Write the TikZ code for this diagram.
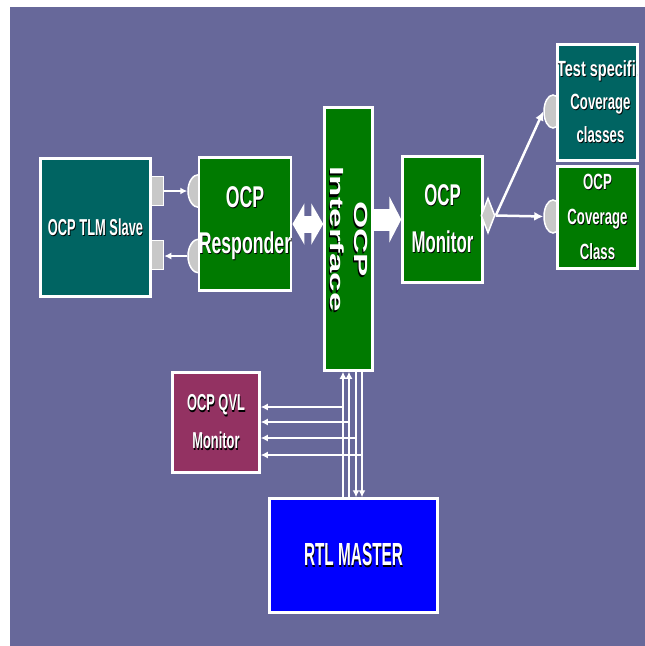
\documentclass[tikz,border=0pt]{standalone}
\usepackage{fontspec}
\usepackage{graphicx}
\setmainfont{Liberation Sans}
\usetikzlibrary{arrows.meta,shapes.geometric,calc}
\definecolor{bgc}{RGB}{103,104,154}
\definecolor{tealc}{RGB}{0,100,98}
\definecolor{greenc}{RGB}{0,122,0}
\definecolor{maroonc}{RGB}{147,50,98}
\definecolor{portc}{RGB}{200,200,200}
% white text with a dark drop shadow, squeezed sideways
\newcommand{\sh}[2][0.56]{\scalebox{#1}[1]{\rlap{\kern1.2pt\raisebox{-1.2pt}{\color{black}#2}}#2}}

\begin{document}
\begin{tikzpicture}[x=1pt,y=-1pt,
    box/.style={draw=white,line width=2.5pt,text=white,inner sep=0pt,align=center},
    port/.style={fill=portc,draw=white,line width=1.5pt,inner sep=0pt},
    sig/.style={white,line width=1.8pt,-{Latex[length=7pt,width=7pt]}},
    fat/.style={white,line width=#1}]
    \useasboundingbox (0,0) rectangle (645,646);
    \fill[bgc] (10,7) rectangle (645,646);

    \node at (199,191) [port,ellipse,minimum width=22pt,minimum height=33pt] (pin) {};
    \node at (199,256) [port,ellipse,minimum width=22pt,minimum height=34pt] (pout) {};
    \node at (553,111.5) [port,ellipse,minimum width=18pt,minimum height=33pt] (ctest) {};
    \node at (553,216.5) [port,ellipse,minimum width=18pt,minimum height=33pt] (ccov) {};

    \node at (95.5,227.5) [box,fill=tealc,minimum width=110pt,minimum height=138pt,
        font=\bfseries\fontsize{23}{28}\selectfont] (slave) {\sh{OCP TLM Slave}};
    \node at (245,224) [box,fill=greenc,minimum width=87pt,minimum height=133pt,
        font=\bfseries\fontsize{30}{46}\selectfont] (resp) {\sh[0.59]{OCP}\\\sh[0.59]{Responder}};
    \node at (348.5,239) [box,fill=greenc,minimum width=48pt,minimum height=263pt] (iface) {};
    \node at (iface) [rotate=-90,text=white,align=center,
        font=\bfseries\fontsize{19}{24}\selectfont] (ifacetxt) {\sh[1.84]{OCP}\\\sh[1.84]{Interface}};
    \node at (442.5,219.5) [box,fill=greenc,minimum width=80pt,minimum height=126pt,
        font=\bfseries\fontsize{30}{47}\selectfont] (mon) {\sh{OCP}\\\sh{Monitor}};
    \node at (597.5,102.5) [box,fill=tealc,minimum width=80pt,minimum height=116pt] (test) {};
    \begin{scope}
        \clip ($(test.north west)+(1.25,1.25)$) rectangle ($(test.south east)+(-1.25,-1.25)$);
        \node at (test) [xshift=3pt,text=white,align=center,
            font=\bfseries\fontsize{22}{33}\selectfont] (testtxt)
            {\sh[0.66]{Test specific}\\\sh[0.6]{Coverage}\\\sh[0.6]{classes}};
    \end{scope}
    \node at (597.5,217.5) [box,fill=greenc,minimum width=80pt,minimum height=102pt,
        font=\bfseries\fontsize{22}{35}\selectfont] (cov) {\sh[0.6]{OCP}\\\sh[0.6]{Coverage}\\\sh[0.6]{Class}};
    \node at (216,422.5) [box,fill=maroonc,minimum width=87pt,minimum height=100pt,
        font=\bfseries\fontsize{23}{38}\selectfont] (qvl) {\sh{OCP QVL}\\\sh{Monitor}};
    \node at (353.5,555.5) [box,fill=blue,minimum width=168pt,minimum height=114pt,
        font=\bfseries\fontsize{32}{38}\selectfont] (rtl) {\sh[0.48]{RTL MASTER}};

    \node at (488,215.5) [port,diamond,minimum width=14pt,minimum height=35pt] (fork) {};
    \node at (157.5,191) [port,minimum width=12pt,minimum height=29pt] (sqin) {};
    \node at (157.5,255) [port,minimum width=12pt,minimum height=29pt] (sqout) {};

    % ports of the slave
    \draw[sig] (sqin.east) -- (sqin.east -| pin.west);
    \draw[sig] (pout.west) -- (pout.west -| sqout.east);

    % wide buses
    \draw[fat=17pt,{Triangle[length=12pt,width=41pt]}-{Triangle[length=12pt,width=41pt]}]
        (resp.east) -- (resp.east -| iface.west);
    \draw[fat=22pt,-{Triangle[length=12pt,width=46pt]}] (mon.west -| iface.east) -- (mon.west);

    % coverage
    \draw[sig,line width=2.5pt,-{Latex[length=9pt,width=9pt]}] (fork.east) -- (ccov.west);
    \draw[sig,line width=2.5pt,-{Latex[length=9pt,width=9pt]}] (fork.east) -- (ctest.west);

    % signals between master and interface
    \foreach \x in {343,349}
        \draw[sig] (\x,0 |- rtl.north) -- (\x,0 |- iface.south);
    \foreach \x in {356,362}
        \draw[sig] (\x,0 |- iface.south) -- (\x,0 |- rtl.north);
    \foreach \x/\y in {343/407,349/422,356/438,362/455}
        \draw[sig] (\x,\y) -- (qvl.east |- 0,\y);
\end{tikzpicture}
\end{document}
